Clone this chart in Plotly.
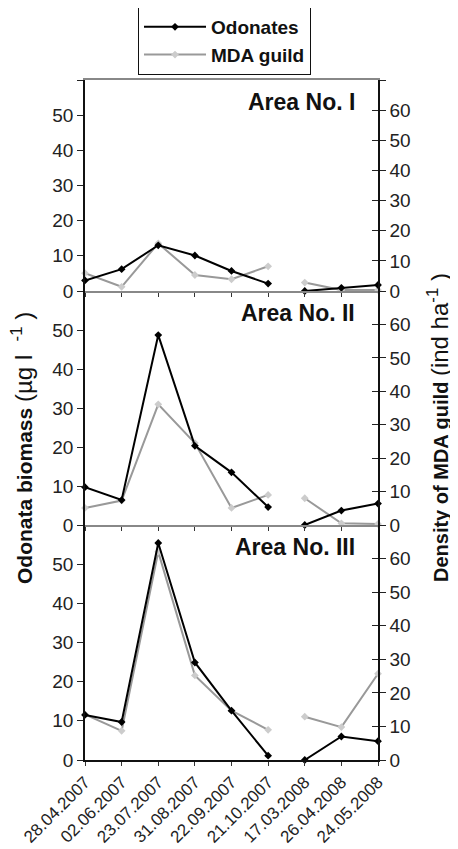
import plotly.graph_objects as go

dates = ["28.04.2007", "02.06.2007", "23.07.2007", "31.08.2007", "22.09.2007",
         "21.10.2007", "17.03.2008", "26.04.2008", "24.05.2008"]
areas = ["Area No. I", "Area No. II", "Area No. III"]

odonates_I = [3.0, 6.2, 13.0, 10.1, 5.7, 2.1, 0.0, 0.9, 1.7]
mda_I = [5.9, 1.4, 15.8, 5.3, 3.9, 8.2, 2.8, 0.3, 0.3]
odonates_II = [9.7, 6.4, 48.7, 20.3, 13.5, 4.6, 0.0, 3.7, 5.5]
mda_II = [5.1, 7.3, 36.1, 24.5, 5.1, 9.0, 8.0, 0.5, 0.3]
odonates_III = [11.5, 9.7, 55.4, 24.9, 12.6, 1.1, 0.0, 6.0, 4.8]
mda_III = [13.6, 8.7, 62.0, 25.2, 14.7, 9.0, 12.9, 9.8, 25.7]

left_ticks = [0, 10, 20, 30, 40, 50, 60]
right_ticks = [0, 10, 20, 30, 40, 50, 60, 70]

odonates = [odonates_I, odonates_II, odonates_III]
mda = [mda_I, mda_II, mda_III]
seasons = [list(range(0, 6)), list(range(6, 9))]

# page body adds an 8px offset; work in reference pixels and convert
OFF = 8
W, H = 458 - OFF, 849 - OFF
X0, X1, Y0, Y1 = 85, 378, 80, 760          # plot area in reference pixels
ML, MR, MT, MB = X0 - OFF, W - (X1 - OFF), Y0 - OFF, H - (Y1 - OFF)
ph = Y1 - Y0
pw = X1 - X0
panel_px = [(80, 291), (291, 525), (525, 760)]
domains = [[(Y1 - b) / ph, (Y1 - t) / ph] for t, b in panel_px]


def px(x):
    return (x - X0) / pw


def py(y):
    return (Y1 - y) / ph


FONT = "Liberation Sans, Arial, sans-serif"
TICKFONT = dict(family=FONT, size=19, color="#222222")
fig = go.Figure()

for k in range(3):
    xid = "x" if k == 0 else f"x{k+1}"
    yr = f"y{3*k+1}" if k else "y"
    yl = f"y{3*k+2}"
    yc = f"y{3*k+3}"
    for idx in seasons:
        fig.add_trace(go.Scatter(
            x=idx, y=[mda[k][i] for i in idx], xaxis=xid, yaxis=yr,
            mode="lines+markers", name="MDA guild", legendgroup="m",
            showlegend=(k == 0 and idx[0] == 0),
            line=dict(color="#999999", width=2),
            marker=dict(symbol="diamond", size=6, color="#cccccc"),
            cliponaxis=False))
    for idx in seasons:
        fig.add_trace(go.Scatter(
            x=idx, y=[odonates[k][i] for i in idx], xaxis=xid, yaxis=yl,
            mode="lines+markers", name="Odonates", legendgroup="o",
            showlegend=(k == 0 and idx[0] == 0),
            line=dict(color="#000000", width=2),
            marker=dict(symbol="diamond", size=6, color="#000000"),
            cliponaxis=False))
    fig.add_trace(go.Scatter(x=[0], y=[0], xaxis=xid, yaxis=yc, mode="markers",
                             marker=dict(opacity=0), showlegend=False,
                             hoverinfo="skip"))

    xname = "xaxis" if k == 0 else f"xaxis{k+1}"
    yrname = "yaxis" if k == 0 else f"yaxis{3*k+1}"
    ylname = f"yaxis{3*k+2}"
    ycname = f"yaxis{3*k+3}"
    last = (k == 2)
    fig.layout[xname] = dict(
        domain=[0, 1], anchor=yr, range=[0, 8], automargin=False,
        tickvals=list(range(9)), ticktext=dates,
        showticklabels=last, tickangle=-45,
        ticks="outside", ticklen=4, tickcolor="#333333",
        showline=True, linewidth=1.5,
        linecolor="#111111" if last else "#888888",
        mirror=(k == 0), showgrid=False, zeroline=False,
        tickfont=dict(family=FONT, size=17, color="#222222"))
    fig.layout[yrname] = dict(
        domain=domains[k], anchor=xid, side="right", range=[0, 70],
        automargin=False,
        tickvals=right_ticks, ticktext=[str(v) if v < 70 else "" for v in right_ticks],
        ticks="outside", ticklen=6, tickcolor="#222222",
        showline=True, linecolor="#111111", linewidth=1.5,
        showgrid=False, zeroline=False, tickfont=TICKFONT)
    fig.layout[ylname] = dict(
        domain=domains[k], anchor=xid, overlaying=yr, side="left", range=[0, 60],
        automargin=False,
        tickvals=left_ticks, ticktext=[str(v) if v < 60 else "" for v in left_ticks],
        ticks="outside", ticklen=6, tickcolor="#222222",
        showline=True, linecolor="#111111", linewidth=1.5,
        showgrid=False, zeroline=False, tickfont=TICKFONT)
    fig.layout[ycname] = dict(
        domain=domains[k], anchor=xid, overlaying=yr, side="right", range=[0, 70],
        automargin=False,
        tickvals=right_ticks, ticks="inside", ticklen=6, tickcolor="#222222",
        showticklabels=False, showline=False, showgrid=False, zeroline=False)

    t, b = panel_px[k]
    fig.add_annotation(
        text=f"<b>{areas[k]}</b>", xref="paper", yref="paper",
        x=px(357), y=py(t + 22),
        xanchor="right", yanchor="middle", showarrow=False,
        font=dict(family=FONT, size=23, color="#111111"))

NB = "\u00a0"
fig.add_annotation(
    text=("<b>Odonata biomass</b> <span style='font-size:24px'>(µg" + NB + "l"
          + NB + NB + "<sup>-1</sup>" + NB + ")</span>"),
    textangle=-90,
    xref="paper", yref="paper", x=px(22), y=py(448),
    xanchor="center", yanchor="middle", showarrow=False,
    font=dict(family=FONT, size=21, color="#111111"))
fig.add_annotation(
    text=("<b>Density of MDA guild</b> <span style='font-size:24px'>(ind" + NB
          + "ha<sup>-1</sup>" + NB + ")</span>"),
    textangle=-90,
    xref="paper", yref="paper", x=px(438), y=py(428),
    xanchor="center", yanchor="middle", showarrow=False,
    font=dict(family=FONT, size=20, color="#111111"))

fig.update_layout(
    width=W, height=H,
    margin=dict(l=ML, r=MR, t=MT, b=MB, autoexpand=False),
    paper_bgcolor="white", plot_bgcolor="white",
    legend=dict(x=px(138), y=py(7),
                xanchor="left", yanchor="top", traceorder="reversed",
                bordercolor="#111111", borderwidth=1, bgcolor="white",
                itemwidth=62, tracegroupgap=6,
                font=dict(family=FONT, size=19, color="#111111", weight="bold")),
    font=dict(family=FONT),
)

fig.write_html("out.html")
